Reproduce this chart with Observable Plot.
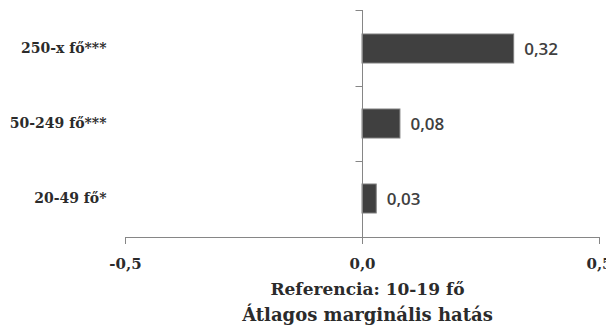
<!DOCTYPE html>
<html>
<head>
<meta charset="utf-8">
<script src="https://cdn.jsdelivr.net/npm/d3@7"></script>
<script src="https://cdn.jsdelivr.net/npm/@observablehq/plot@0.6"></script>
<style>
  html, body { margin: 0; padding: 0; background: #fff; }
  #chart { width: 606px; height: 326px; overflow: hidden; }
</style>
</head>
<body>
<div id="chart"></div>
<script>
// ---- data ----
const categories = ["250-x fő***", "50-249 fő***", "20-49 fő*"];
const values = [0.32, 0.08, 0.03];
const valueLabels = ["0,32", "0,08", "0,03"];
const xTicks = [-0.5, 0, 0.5];
const xTickLabels = ["-0,5", "0,0", "0,5"];
const referenceLabel = "Referencia: 10-19 fő";
const axisTitle = "Átlagos marginális hatás";

// ---- styles ----
const serif = "'DejaVu Serif', serif";
const sans = "'Open Sans', sans-serif";
const axisColor = "#868686";
const textColor = "#2b2b2b";
const barColor = "#404040";

const table = categories.map((c, i) => ({category: c, value: values[i], label: valueLabels[i]}));

function axisFrame(index, scales, values, dimensions) {
  const {marginTop, marginBottom, height} = dimensions;
  const top = marginTop, bottom = height - marginBottom;
  const x0 = Math.round(scales.x(0)) + 0.5;
  const n = categories.length;
  const g = d3.create("svg:g").attr("stroke", axisColor).attr("stroke-width", 1).attr("fill", "none");
  for (let k = 0; k <= n; ++k) {
    const y = Math.round(top + k * (bottom - top) / n) + 0.5;
    g.append("line").attr("x1", x0 - 7).attr("x2", x0).attr("y1", y).attr("y2", y);
  }
  const yb = Math.round(bottom) + 0.5;
  g.append("line")
    .attr("x1", Math.round(scales.x(xTicks[0])) + 0.5)
    .attr("x2", Math.round(scales.x(xTicks[xTicks.length - 1])) + 0.5)
    .attr("y1", yb).attr("y2", yb);
  return g.node();
}

const chart = Plot.plot({
  width: 606,
  height: 326,
  marginTop: 10,
  marginBottom: 89,
  marginLeft: 125,
  marginRight: 7,
  style: {fontFamily: serif, fontSize: "14px", color: textColor, background: "#fff"},
  x: {domain: [xTicks[0], xTicks[xTicks.length - 1]]},
  y: {domain: categories, padding: 0},
  marks: [
    Plot.barX(table, {y: "category", x: "value", fill: barColor, stroke: "#7f7f7f", strokeWidth: 1, insetTop: 23, insetBottom: 23}),
    Plot.text(table, {y: "category", x: "value", text: "label", textAnchor: "start", dx: 10, dy: 1, fontFamily: sans, fontSize: 17, fontWeight: 600, fill: barColor}),
    Plot.ruleX([0], {stroke: axisColor, insetBottom: -7}),
    axisFrame,
    Plot.axisX({ticks: xTicks, tickFormat: (d) => xTickLabels[xTicks.indexOf(d)], tickSize: 7, tickPadding: 14, stroke: axisColor, fill: textColor, fontWeight: "bold", fontSize: 15, label: null}),
    Plot.axisY({tickSize: 0, tickPadding: 19, fill: textColor, fontWeight: "bold", fontSize: 14, label: null}),
    Plot.text([referenceLabel], {text: (d) => d, frameAnchor: "bottom", dx: 5, dy: 57, fontWeight: "bold", fontSize: 17, fill: textColor}),
    Plot.text([axisTitle], {text: (d) => d, frameAnchor: "bottom", dx: 5, dy: 83, fontWeight: "bold", fontSize: 18, fill: textColor})
  ]
});
document.getElementById("chart").append(chart);
</script>
</body>
</html>
